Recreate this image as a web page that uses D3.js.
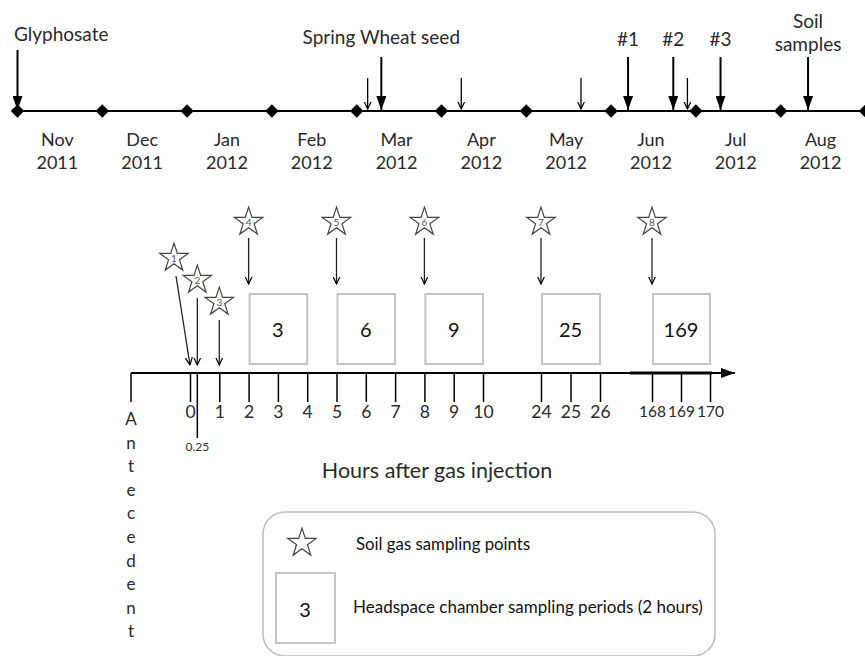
<!doctype html>
<meta charset="utf-8">
<title>Sampling timeline</title>
<style>
body { margin: 0; background: #fff; }
svg { display: block; font-family: Lato, "Open Sans", sans-serif; }
</style>

<svg id="visual" width="865" height="656"></svg>

<script src="https://cdn.jsdelivr.net/npm/d3@7/dist/d3.min.js"></script>
<script>

// (timeline data)
var months = ["Nov", "Dec", "Jan", "Feb", "Mar", "Apr", "May", "Jun", "Jul", "Aug"];
var years = ["2011", "2011", "2012", "2012", "2012", "2012", "2012", "2012", "2012", "2012"];
var eventDates = ["2011-11-01", "2012-03-05", "2012-03-10", "2012-04-08", "2012-05-21",
	"2012-06-07", "2012-06-23", "2012-06-28", "2012-07-10", "2012-08-11"];
var eventLabels = ["Glyphosate", "", "Spring Wheat seed", "", "", "#1", "#2", "", "#3", "Soil|samples"];

// (hours data)
var hourTicks = [0, 1, 2, 3, 4, 5, 6, 7, 8, 9, 10, 24, 25, 26, 168, 169, 170];
var starHours = [0, 0.25, 1, 2, 5, 8, 24, 168];
var boxStarts = [2, 5, 8, 24, 168];
var boxLabels = ["3", "6", "9", "25", "169"];
var antecedent = "Antecedent";

var svg = d3.select("#visual");

// (markers)
var defs = svg.append("defs");
defs.append("marker")
	.attr("id", "solid")
	.attr("markerUnits", "userSpaceOnUse")
	.attr("viewBox", "0 0 14 10")
	.attr("refX", 14).attr("refY", 5)
	.attr("markerWidth", 14).attr("markerHeight", 10)
	.attr("orient", "auto")
	.append("path").attr("d", "M0,0L14,5L0,10Z").attr("fill", "#000");
defs.append("marker")
	.attr("id", "open")
	.attr("markerUnits", "userSpaceOnUse")
	.attr("viewBox", "0 0 8 8")
	.attr("refX", 7.5).attr("refY", 4)
	.attr("markerWidth", 8).attr("markerHeight", 8)
	.attr("orient", "auto")
	.append("path").attr("d", "M0,0.5L7.5,4L0,7.5").attr("fill", "none")
	.attr("stroke", "#000").attr("stroke-width", 1.2);

// ---------------- top timeline ----------------
var lineY = 111;
var xMonth = d3.scaleLinear().domain([0, 10]).range([17.5, 865.5]);

function monthPos(s) {
	var d = d3.timeParse("%Y-%m-%d")(s);
	var m0 = d3.timeMonth.floor(d), m1 = d3.timeMonth.offset(m0, 1);
	var idx = d3.timeMonth.count(new Date(2011, 10, 1), m0);
	return idx + (d - m0) / (m1 - m0);
}

svg.append("line")
	.attr("x1", xMonth(0)).attr("x2", xMonth(10))
	.attr("y1", lineY).attr("y2", lineY)
	.attr("stroke", "#000").attr("stroke-width", 2);

svg.selectAll(".diamond")
	.data(d3.range(11))
	.enter().append("path")
	.attr("class", "diamond")
	.attr("d", d3.symbol().type(d3.symbolSquare).size(90))
	.attr("transform", function(d) { return "translate(" + xMonth(d) + "," + lineY + ") rotate(45)"; })
	.attr("fill", "#000");

var monthText = svg.selectAll(".month")
	.data(months)
	.enter().append("text")
	.attr("class", "month")
	.attr("text-anchor", "middle")
	.attr("font-size", 18)
	.attr("fill", "#2a2a2a");
monthText.append("tspan")
	.attr("x", function(d, i) { return xMonth(i + 0.47); })
	.attr("y", 146)
	.text(function(d) { return d; });
monthText.append("tspan")
	.attr("x", function(d, i) { return xMonth(i + 0.47); })
	.attr("y", 169)
	.text(function(d, i) { return years[i]; });

var events = eventDates.map(function(d, i) {
	return {x: xMonth(monthPos(d)), label: eventLabels[i], major: eventLabels[i] !== ""};
});

svg.selectAll(".event")
	.data(events)
	.enter().append("line")
	.attr("class", "event")
	.attr("x1", function(d) { return d.x; })
	.attr("x2", function(d) { return d.x; })
	.attr("y1", function(d, i) { return i === 0 ? 50 : (d.major ? 57 : 78); })
	.attr("y2", function(d) { return d.major ? lineY - 1 : lineY - 2; })
	.attr("stroke", "#000")
	.attr("stroke-width", function(d) { return d.major ? 2 : 1.3; })
	.attr("marker-end", function(d) { return d.major ? "url(#solid)" : "url(#open)"; });

svg.selectAll(".evlabel")
	.data(events.filter(function(d) { return d.major; }))
	.enter().append("text")
	.attr("class", "evlabel")
	.attr("font-size", 19)
	.attr("fill", "#2a2a2a")
	.attr("text-anchor", function(d, i) { return i === 0 ? "start" : "middle"; })
	.each(function(d, i) {
		var parts = d.label.split("|");
		var t = d3.select(this);
		parts.forEach(function(p, j) {
			t.append("tspan")
				.attr("x", i === 0 ? 14 : d.x)
				.attr("y", parts.length > 1 ? 28 + j * 23 : (i === 0 ? 41 : (i === 1 ? 44 : 46)))
				.text(p);
		});
	});

// ---------------- hours axis ----------------
var axisY = 373;
var xHour = d3.scaleLinear()
	.domain([0, 10, 24, 26, 168, 170])
	.range([190, 483, 541, 600, 652, 710]);

svg.append("line")
	.attr("x1", 131).attr("x2", 735)
	.attr("y1", axisY).attr("y2", axisY)
	.attr("stroke", "#000").attr("stroke-width", 2)
	.attr("marker-end", "url(#solid)");
svg.append("line")
	.attr("x1", 630).attr("x2", 712)
	.attr("y1", axisY).attr("y2", axisY)
	.attr("stroke", "#000").attr("stroke-width", 3);

var axis = svg.append("g")
	.attr("transform", "translate(0," + axisY + ")")
	.call(d3.axisBottom(xHour).tickValues(hourTicks).tickSize(29).tickPadding(4).tickFormat(d3.format("d")));
axis.select(".domain").remove();
axis.selectAll(".tick line").attr("stroke", "#000").attr("stroke-width", 1.5);
axis.selectAll(".tick text")
	.attr("font-family", "Lato, sans-serif")
	.attr("font-size", function(d) { return d > 100 ? 15.5 : 17.5; })
	.attr("fill", "#2a2a2a");

// 0.25 tick and antecedent tick
svg.append("line")
	.attr("x1", xHour(0.25)).attr("x2", xHour(0.25))
	.attr("y1", axisY).attr("y2", 438)
	.attr("stroke", "#000").attr("stroke-width", 1.5);
svg.append("text")
	.attr("x", xHour(0.25)).attr("y", 451)
	.attr("text-anchor", "middle").attr("font-size", 12).attr("fill", "#333")
	.text("0.25");
svg.append("line")
	.attr("x1", 131).attr("x2", 131)
	.attr("y1", axisY).attr("y2", 402)
	.attr("stroke", "#000").attr("stroke-width", 1.5);

svg.selectAll(".ante")
	.data(antecedent.split(""))
	.enter().append("text")
	.attr("class", "ante")
	.attr("x", 131).attr("y", function(d, i) { return 425 + i * 23.6; })
	.attr("text-anchor", "middle").attr("font-size", 17).attr("fill", "#2a2a2a")
	.text(function(d) { return d; });

svg.append("text")
	.attr("x", 437).attr("y", 478)
	.attr("text-anchor", "middle").attr("font-size", 21.5).attr("fill", "#2a2a2a")
	.text("Hours after gas injection");

// (boxes)
svg.selectAll(".box")
	.data(boxStarts)
	.enter().append("rect")
	.attr("class", "box")
	.attr("x", function(d) { return xHour(d) + 1; })
	.attr("width", function(d) { return xHour(d + 2) - xHour(d) - 1; })
	.attr("y", 294).attr("height", 70)
	.attr("fill", "none").attr("stroke", "#c4c4c4").attr("stroke-width", 2);
svg.selectAll(".boxlabel")
	.data(boxStarts)
	.enter().append("text")
	.attr("class", "boxlabel")
	.attr("x", function(d) { return xHour(d + 1); })
	.attr("y", 337)
	.attr("text-anchor", "middle").attr("font-size", 20).attr("fill", "#111")
	.text(function(d, i) { return boxLabels[i]; });

// (stars)
var star = d3.symbol().type(d3.symbolStar).size(250);
var stars = starHours.map(function(h, i) {
	return {
		h: h, n: i + 1,
		x: xHour(h) + (i === 0 ? -16 : 0),
		y: i < 3 ? 258 + i * 22 : 222
	};
});

svg.selectAll(".sarrow")
	.data(stars)
	.enter().append("line")
	.attr("class", "sarrow")
	.attr("x1", function(d) { return d.x + (d.n === 1 ? 2 : 0); })
	.attr("y1", function(d) { return d.y + (d.n < 4 ? 18 : 16); })
	.attr("x2", function(d) { return xHour(d.h); })
	.attr("y2", function(d) { return d.n < 4 ? 365 : 284; })
	.attr("stroke", "#222").attr("stroke-width", 1.3)
	.attr("marker-end", "url(#open)");

var starG = svg.selectAll(".star")
	.data(stars)
	.enter().append("g")
	.attr("class", "star")
	.attr("transform", function(d) { return "translate(" + d.x + "," + d.y + ")"; });
starG.append("path")
	.attr("d", star)
	.attr("fill", "#fff").attr("stroke", "#444").attr("stroke-width", 1.2);
starG.append("text")
	.attr("y", 4).attr("text-anchor", "middle")
	.attr("font-size", 10).attr("fill", "#555")
	.text(function(d) { return d.n; });

// ---------------- legend ----------------
svg.append("rect")
	.attr("x", 263).attr("y", 512)
	.attr("width", 452).attr("height", 144)
	.attr("rx", 22)
	.attr("fill", "none").attr("stroke", "#bdbdbd").attr("stroke-width", 1.5);
svg.append("path")
	.attr("d", star)
	.attr("transform", "translate(302,543)")
	.attr("fill", "#fff").attr("stroke", "#444").attr("stroke-width", 1.2);
svg.append("text")
	.attr("x", 356).attr("y", 550)
	.attr("font-size", 16.8).attr("fill", "#111")
	.text("Soil gas sampling points");
svg.append("rect")
	.attr("x", 276).attr("y", 573)
	.attr("width", 59).attr("height", 70)
	.attr("fill", "none").attr("stroke", "#c4c4c4").attr("stroke-width", 2);
svg.append("text")
	.attr("x", 305).attr("y", 617)
	.attr("text-anchor", "middle").attr("font-size", 20).attr("fill", "#111")
	.text("3");
svg.append("text")
	.attr("x", 353).attr("y", 613)
	.attr("font-size", 17).attr("fill", "#111")
	.text("Headspace chamber sampling periods (2 hours)");

</script>
